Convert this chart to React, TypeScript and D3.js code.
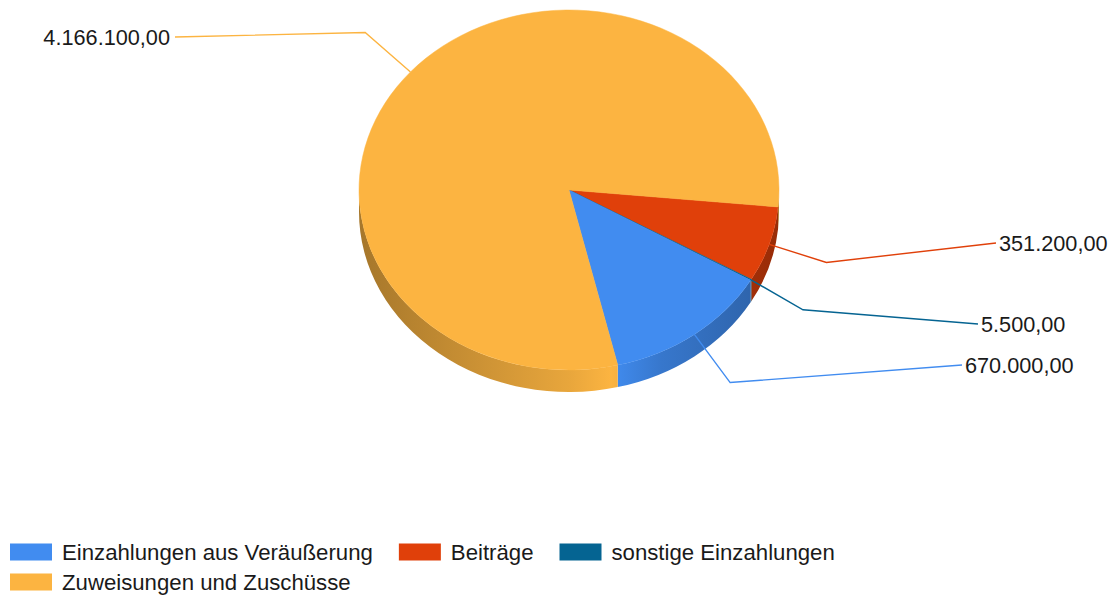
import * as d3 from "d3";
import { useEffect, useRef } from "react";

// categories in legend order
const categories = [
  "Einzahlungen aus Veräußerung",
  "Beiträge",
  "sonstige Einzahlungen",
  "Zuweisungen und Zuschüsse",
];
const values = [670000, 351200, 5500, 4166100];
const colors = ["#418CF0", "#E0400A", "#056492", "#FCB441"];
// clockwise order of the slices, starting just below 3 o'clock
const drawOrder = [1, 2, 0, 3];
const startDeg = 95.4;

// where each leader line ends (label anchor), by category index
const labelAnchors = [
  { x: 962, y: 365, side: "right" },
  { x: 996, y: 243, side: "right" },
  { x: 978, y: 324, side: "right" },
  { x: 175, y: 37, side: "left" },
];

const W = 1111;
const H = 596;
const cx = 569;
const cy = 190;
const rx = 210;
const ry = 180;
const depth = 22;
const font = "'Liberation Sans', Arial, sans-serif";

const fmt = d3.formatLocale({
  decimal: ",",
  thousands: ".",
  grouping: [3],
  currency: ["", " €"],
}).format(",.2f");

export default function App() {
  const ref = useRef<SVGSVGElement>(null);

  useEffect(() => {
    const svg = d3.select(ref.current);
    svg.selectAll("*").remove();
    svg.attr("viewBox", [0, 0, W, H]).attr("width", W).attr("height", H);

    const pt = (a: number, dy = 0) => [cx + rx * Math.sin(a), cy - ry * Math.cos(a) + dy];

    const pie = d3
      .pie<number>()
      .sort(null)
      .value((i) => values[i])
      .startAngle((startDeg * Math.PI) / 180)
      .endAngle((startDeg * Math.PI) / 180 + 2 * Math.PI);
    const arcs = pie(drawOrder);

    const defs = svg.append("defs");
    colors.forEach((c, i) => {
      const g = defs
        .append("linearGradient")
        .attr("id", `wall${i}`)
        .attr("gradientUnits", "userSpaceOnUse")
        .attr("x1", cx - rx)
        .attr("x2", cx + rx)
        .attr("y1", 0)
        .attr("y2", 0);
      const base = d3.rgb(c);
      [
        [0, 0.66],
        [0.5, 0.92],
        [0.6, 1.0],
        [0.72, 0.85],
        [1, 0.68],
      ].forEach(([o, k]) => {
        g.append("stop")
          .attr("offset", o)
          .attr("stop-color", d3.rgb(base.r * k, base.g * k, base.b * k).formatHex());
      });
    });

    // side walls (front half only)
    const walls = svg.append("g");
    arcs.forEach((d) => {
      const i = d.data;
      for (let k = 0; k < 2; k++) {
        const lo = Math.PI / 2 + 2 * Math.PI * k;
        const hi = (3 * Math.PI) / 2 + 2 * Math.PI * k;
        const b0 = Math.max(d.startAngle, lo);
        const b1 = Math.min(d.endAngle, hi);
        if (b1 <= b0) continue;
        const p0 = pt(b0);
        const p1 = pt(b1);
        const q1 = pt(b1, depth);
        const q0 = pt(b0, depth);
        const s = `M${p0}A${rx},${ry} 0 0 1 ${p1}L${q1}A${rx},${ry} 0 0 0 ${q0}Z`;
        walls
          .append("path")
          .attr("d", s)
          .attr("fill", `url(#wall${i})`);
      }
    });

    // top faces
    const tops = svg.append("g");
    arcs.forEach((d) => {
      const i = d.data;
      const p0 = pt(d.startAngle);
      const p1 = pt(d.endAngle);
      const large = d.endAngle - d.startAngle > Math.PI ? 1 : 0;
      tops
        .append("path")
        .attr("d", `M${cx},${cy}L${p0}A${rx},${ry} 0 ${large} 1 ${p1}Z`)
        .attr("fill", colors[i])
        .attr("stroke", colors[i])
        .attr("stroke-width", 0.5);
    });

    // leader lines and labels
    const labels = svg.append("g");
    arcs.forEach((d) => {
      const i = d.data;
      const mid = (d.startAngle + d.endAngle) / 2;
      const a = pt(mid);
      const e = [a[0] + 60 * Math.sin(mid), a[1] - 60 * Math.cos(mid)];
      const l = labelAnchors[i];
      labels
        .append("polyline")
        .attr("points", `${a} ${e} ${l.x},${l.y}`)
        .attr("fill", "none")
        .attr("stroke", colors[i])
        .attr("stroke-width", 1.4);
      labels
        .append("text")
        .attr("x", l.side === "right" ? l.x + 3 : l.x - 5)
        .attr("y", l.y)
        .attr("dy", "0.35em")
        .attr("text-anchor", l.side === "right" ? "start" : "end")
        .attr("font-family", font)
        .attr("font-size", 21.7)
        .attr("fill", "#1a1a1a")
        .text(fmt(values[i]));
    });

    // legend with wrapping
    const legend = svg.append("g");
    let x = 10;
    let row = 0;
    categories.forEach((c, i) => {
      const g = legend.append("g");
      const t = g
        .append("text")
        .attr("x", 52)
        .attr("dy", "0.35em")
        .attr("font-family", font)
        .attr("font-size", 22.2)
        .attr("fill", "#1a1a1a")
        .text(c);
      const tw = (t.node() as SVGTextElement).getComputedTextLength();
      const itemW = 52 + tw + 26;
      if (x + itemW - 26 > W && x > 10) {
        x = 10;
        row++;
      }
      g.append("rect")
        .attr("x", 0)
        .attr("y", -8.5)
        .attr("width", 42)
        .attr("height", 17)
        .attr("fill", colors[i]);
      g.attr("transform", `translate(${x},${552 + row * 30})`);
      x += itemW;
    });
  }, []);

  return <svg ref={ref} style={{ display: "block", position: "absolute", left: 0, top: 0 }} />;
}
